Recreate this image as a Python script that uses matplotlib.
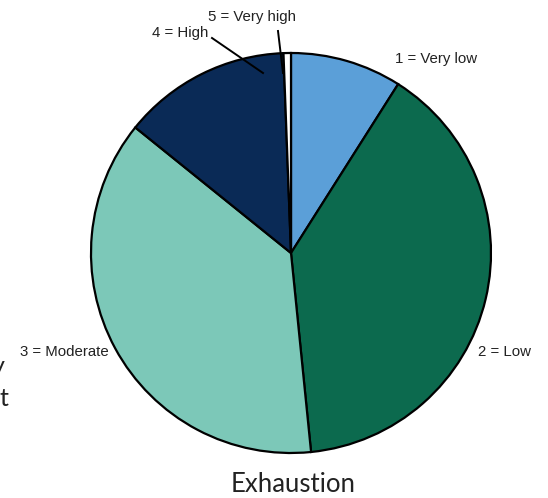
import matplotlib.pyplot as plt

categories = ['1 = Very low', '2 = Low', '3 = Moderate', '4 = High', '5 = Very high']
shares = [9.0, 39.4, 37.4, 13.6, 0.6]
colors = ['#5b9fd8', '#0c6a4e', '#7cc8b8', '#0a2a56', '#ffffff']

W, H = 548, 498
fig = plt.figure(figsize=(W / 100, H / 100), dpi=100)
ax = fig.add_axes([0, 0, 1, 1])

cx, cy, r = 291, H - 253, 200
ax.pie(shares, colors=colors, startangle=90, counterclock=False,
       center=(cx, cy), radius=r, frame=True,
       wedgeprops=dict(edgecolor='black', linewidth=1.6))
ax.set_xlim(0, W)
ax.set_ylim(0, H)
ax.set_aspect('equal')
ax.axis('off')

lab = dict(fontsize=10.8, family='Liberation Sans', color='#222222', va='center')
ax.text(395, H - 59, categories[0], ha='left', **lab)
ax.text(478, H - 352, categories[1], ha='left', **lab)
ax.text(109, H - 352, categories[2], ha='right', **lab)
ax.text(208, H - 33, categories[3], ha='right', **lab)
ax.text(252, H - 17, categories[4], ha='center', **lab)

# leader lines
ax.plot([212, 263], [H - 38, H - 73], color='black', lw=1.4)
ax.plot([278, 283], [H - 31, H - 73], color='black', lw=1.4)

# stray text fragments cut at the left edge of the scan
ax.text(5, H - 366, 'y', fontsize=18, family='Lato', color='#222222', ha='right', va='center')
ax.text(8, H - 398, 't', fontsize=18, family='Lato', color='#222222', ha='right', va='center')

ax.text(293, H - 485, 'Exhaustion', fontsize=18.5, family='Lato', color='#222222',
        ha='center', va='center')

fig.savefig('out.png', dpi=100)
